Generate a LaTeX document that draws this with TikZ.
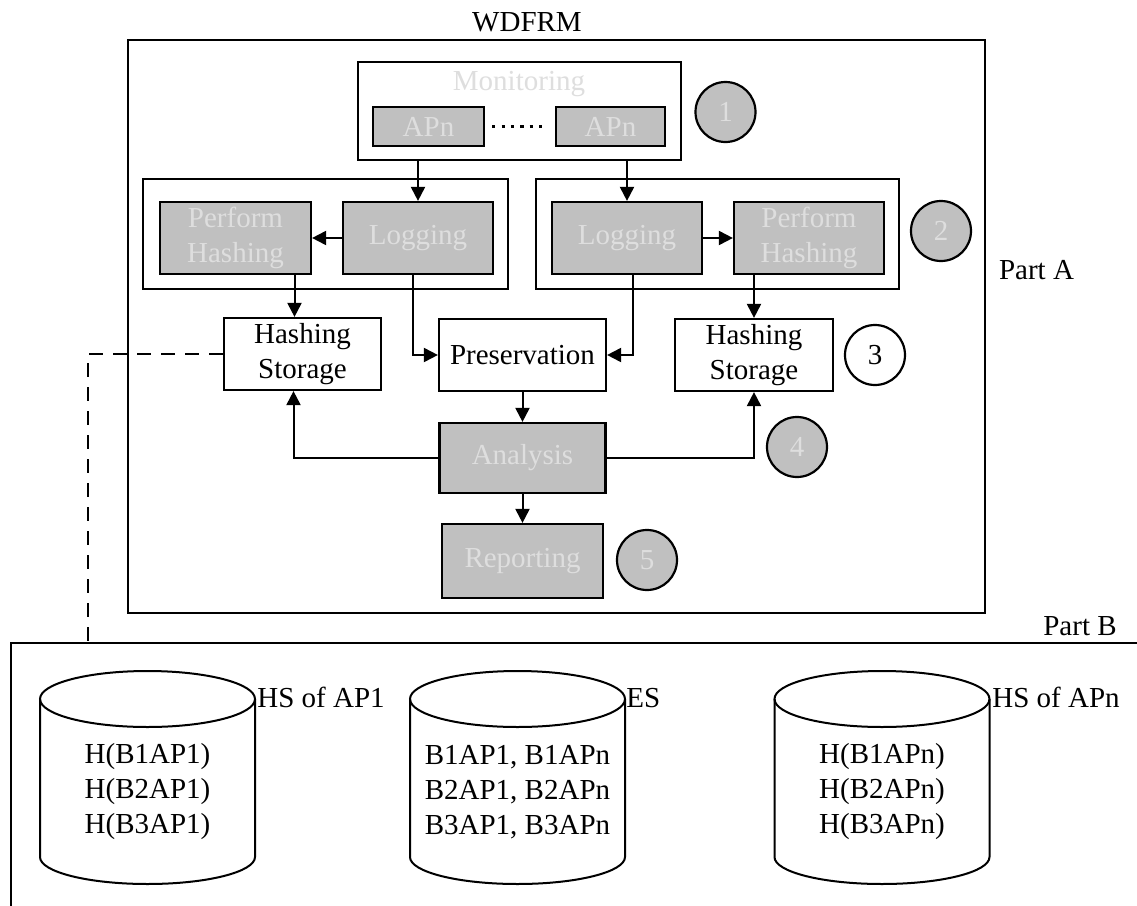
\documentclass[tikz,border=0pt]{standalone}
\usepackage{fontspec}
\setmainfont{Liberation Serif}
\usetikzlibrary{arrows.meta}

\definecolor{boxgray}{RGB}{192,192,192}
\definecolor{txtgray}{RGB}{222,222,222}

\begin{document}
\begin{tikzpicture}[x=0.5pt,y=-0.5pt,
  every node/.style={font=\fontsize{14.5}{17.5}\selectfont},
  frame/.style={draw, line width=1.1pt, inner sep=0pt},
  graybox/.style={draw, line width=1.1pt, fill=boxgray, text=txtgray, inner sep=0pt, align=center},
  whitebox/.style={draw, line width=1.1pt, fill=white, inner sep=0pt, align=center},
  num/.style={circle, draw, line width=1.1pt, fill=boxgray, text=txtgray, minimum size=30pt, inner sep=0pt},
  numwhite/.style={circle, draw, line width=1.1pt, fill=white, minimum size=30pt, inner sep=0pt},
  arr/.style={-{Triangle[length=7pt,width=7pt]}, line width=1pt},
  dashline/.style={line width=1pt, dash pattern=on 7pt off 5pt},
  dotline/.style={line width=1.6pt, dash pattern=on 1.6pt off 3.1pt},
  dbline/.style={line width=1pt}]

\useasboundingbox (0,0) rectangle (1137,906);

% ---------- Part A: the WDFRM frame ----------
\node[frame, minimum width=428.5pt, minimum height=286.5pt] (wdfrm) at (556.5,326.5) {};
\node (wdfrmlabel) at (527,22) {WDFRM};
\node[anchor=west] (partA) at (992,270) {Part A};

% monitoring stage
\node[frame, fill=white, minimum width=161.5pt, minimum height=49pt] (mon) at (519.5,111) {};
\node[text=txtgray] (monlabel) at (519,84) {Monitoring};
\node[graybox, minimum width=55.5pt, minimum height=19.5pt] (apL) at (428.5,126.5) {APn};
\node[graybox, minimum width=54.5pt, minimum height=19.5pt] (apR) at (610.5,126.5) {APn};
\draw[dotline] ([xshift=3.5pt]apL.east) -- ([xshift=-4pt]apR.west);
\node[num] (c1) at (725.5,112) {1};

% logging and hashing groups
\node[frame, minimum width=182.5pt, minimum height=55pt] (gL) at (325.5,234) {};
\node[frame, minimum width=181.5pt, minimum height=55pt] (gR) at (717.5,234) {};
\node[graybox, minimum width=75.5pt, minimum height=36pt] (hashL) at (235.5,238) {Perform\\Hashing};
\node[graybox, minimum width=75pt, minimum height=36pt] (logL) at (418,238) {Logging};
\node[graybox, minimum width=75pt, minimum height=36pt] (logR) at (627,238) {Logging};
\node[graybox, minimum width=75pt, minimum height=36pt] (hashR) at (809,238) {Perform\\Hashing};
\node[num] (c2) at (941,231) {2};

% storage and preservation
\node[whitebox, minimum width=78.5pt, minimum height=36pt] (hsL) at (302.5,354) {Hashing\\Storage};
\node[whitebox, minimum width=83.5pt, minimum height=36pt] (pres) at (522.5,355) {Preservation};
\node[whitebox, minimum width=79pt, minimum height=36pt] (hsR) at (754,355) {Hashing\\Storage};
\node[numwhite] (c3) at (875,355) {3};

% analysis and reporting
\node[graybox, minimum width=83pt, minimum height=35pt] (ana) at (522.5,458) {Analysis};
\node[num] (c4) at (797,447) {4};
\node[graybox, minimum width=80.5pt, minimum height=37pt] (rep) at (522.5,561) {Reporting};
\node[num] (c5) at (647,560) {5};

% connectors
\coordinate (hsLtop) at ([xshift=-4pt]hsL.north);
\coordinate (hsLbot) at ([xshift=-4.5pt]hsL.south);
\coordinate (logLout) at ([xshift=-2.5pt]logL.south);
\coordinate (logRout) at ([xshift=3pt]logR.south);

\draw[arr] (logL.north |- mon.south) -- (logL.north);
\draw[arr] (logR.north |- mon.south) -- (logR.north);
\draw[arr] (logL.west) -- (hashL.east);
\draw[arr] (logR.east) -- (hashR.west);
\draw[arr] (hsLtop |- hashL.south) -- (hsLtop);
\draw[arr] (hsR.north |- hashR.south) -- (hsR.north);
\draw[arr] (logLout) |- (pres.west);
\draw[arr] (logRout) |- (pres.east);
\draw[arr] (pres.south) -- (ana.north);
\draw[arr] (ana.west) -| (hsLbot);
\draw[arr] (ana.east) -| (hsR.south);
\draw[arr] (ana.south) -- (rep.north);

% ---------- Part B: storage ----------
\coordinate (bTopRight) at (1140,643);
\coordinate (bCorner) at (11,643);
\coordinate (bBottom) at (11,910);
\draw[line width=1.1pt] (bTopRight) -- (bCorner) -- (bBottom);
\node (partB) at (1080,626) {Part B};

\coordinate (linkB) at (88,643);
\draw[dashline] (hsL.west) -| (linkB);

% databases
\foreach \cx/\nm in {147.5/dbA, 517.5/dbE, 882/dbN}{
  \draw[dbline, fill=white] (\cx-107.5,699) -- (\cx-107.5,857)
    arc[start angle=180, end angle=360, x radius=53.75pt, y radius=13.5pt]
    -- (\cx+107.5,699);
  \draw[dbline] (\cx,699) ellipse [x radius=53.75pt, y radius=14pt];
}
\node[align=center] (dbAtext) at (147.5,792) {H(B1AP1)\\H(B2AP1)\\H(B3AP1)};
\node[align=center] (dbEtext) at (517.5,792) {B1AP1, B1APn\\B2AP1, B2APn\\B3AP1, B3APn};
\node[align=center] (dbNtext) at (882,792) {H(B1APn)\\H(B2APn)\\H(B3APn)};
\node[anchor=base west, inner sep=1pt] (dbAname) at (255,707) {HS of AP1};
\node[anchor=base west, inner sep=1pt] (dbEname) at (624,707) {ES};
\node[anchor=base west, inner sep=1pt] (dbNname) at (990,707) {HS of APn};

\end{tikzpicture}
\end{document}
